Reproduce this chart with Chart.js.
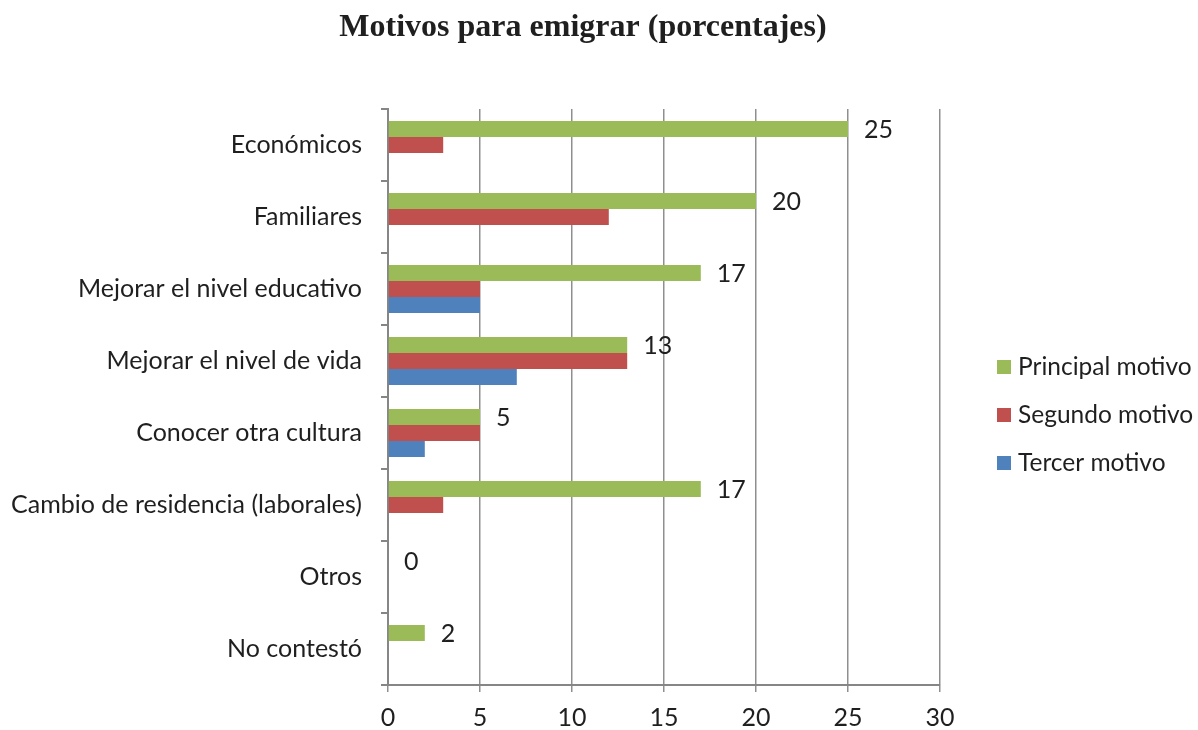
<!DOCTYPE html>
<html>
<head>
<meta charset="utf-8">
<script src="https://cdn.jsdelivr.net/npm/chart.js@4.4.1/dist/chart.umd.min.js"></script>
<style>
  html, body { margin: 0; padding: 0; background: #fff; }
  canvas { display: block; }
</style>
</head>
<body>
<canvas id="c" width="1198" height="730"></canvas>
<script>
const titleText = 'Motivos para emigrar (porcentajes)';
const categories = [
  'Económicos',
  'Familiares',
  'Mejorar el nivel educativo',
  'Mejorar el nivel de vida',
  'Conocer otra cultura',
  'Cambio de residencia (laborales)',
  'Otros',
  'No contestó'
];
const seriesNames = ['Principal motivo', 'Segundo motivo', 'Tercer motivo'];
const principal = [25, 20, 17, 13, 5, 17, 0, 2];
const segundo   = [3, 12, 5, 13, 5, 3, 0, 0];
const tercer    = [0, 0, 5, 7, 2, 0, 0, 0];
const xTicks = [0, 5, 10, 15, 20, 25, 30];

const colors = ['#9BBB59', '#C0504D', '#4F81BD'];
const textColor = '#1f1f1f';
const axisGray = '#868686';
const FONT = 'Lato, "Open Sans", sans-serif';
const FS = 25;

const titlePlugin = {
  id: 'customTitle',
  afterDraw(chart) {
    const ctx = chart.ctx;
    ctx.save();
    ctx.font = 'bold 32px "Liberation Serif", "Times New Roman", serif';
    ctx.fillStyle = textColor;
    ctx.textAlign = 'center';
    ctx.textBaseline = 'middle';
    ctx.fillText(titleText, 583, 28);
    ctx.restore();
  }
};

const labelPlugin = {
  id: 'barLabels',
  afterDatasetsDraw(chart) {
    const ctx = chart.ctx;
    const meta = chart.getDatasetMeta(0);
    ctx.save();
    ctx.font = FS + 'px ' + FONT;
    ctx.fillStyle = textColor;
    ctx.textAlign = 'left';
    ctx.textBaseline = 'middle';
    meta.data.forEach((bar, i) => {
      ctx.fillText(String(principal[i]), bar.x + 16, bar.y + 1);
    });
    ctx.restore();
  }
};

const legendPlugin = {
  id: 'customLegend',
  afterDraw(chart) {
    const ctx = chart.ctx;
    ctx.save();
    ctx.font = '24.5px ' + FONT;
    ctx.textAlign = 'left';
    ctx.textBaseline = 'middle';
    const ys = [367, 415, 463];
    chart.data.datasets.forEach((ds, i) => {
      ctx.fillStyle = ds.backgroundColor;
      ctx.fillRect(997, ys[i] - 7, 14, 14);
      ctx.fillStyle = textColor;
      ctx.fillText(ds.label, 1018, ys[i]);
    });
    ctx.restore();
  }
};

new Chart(document.getElementById('c'), {
  type: 'bar',
  data: {
    labels: categories,
    datasets: [
      { label: seriesNames[0], data: principal, backgroundColor: colors[0] },
      { label: seriesNames[1], data: segundo, backgroundColor: colors[1] },
      { label: seriesNames[2], data: tercer, backgroundColor: colors[2] }
    ]
  },
  options: {
    indexAxis: 'y',
    responsive: false,
    devicePixelRatio: 1,
    animation: false,
    categoryPercentage: 0.667,
    barPercentage: 1.0,
    layout: { padding: { top: 109, right: 258, bottom: 0, left: 0 } },
    plugins: {
      legend: { display: false },
      title: { display: false },
      tooltip: { enabled: false }
    },
    scales: {
      x: {
        min: 0,
        max: 30,
        afterBuildTicks(scale) { scale.ticks = xTicks.map(v => ({ value: v })); },
        afterFit(scale) { scale.height = 45; },
        ticks: { font: { family: FONT, size: FS }, color: textColor, padding: 11 },
        grid: { color: '#8f8f8f', lineWidth: 1.5, tickLength: 7, drawOnChartArea: true },
        border: { display: true, color: axisGray, width: 2 }
      },
      y: {
        afterFit(scale) { scale.width = 388; },
        ticks: { font: { family: FONT, size: FS }, color: textColor, padding: 19 },
        grid: { display: true, drawOnChartArea: false, offset: true, tickLength: 7, color: axisGray, lineWidth: 2 },
        border: { display: true, color: axisGray, width: 2 }
      }
    }
  },
  plugins: [titlePlugin, labelPlugin, legendPlugin]
});
</script>
</body>
</html>
